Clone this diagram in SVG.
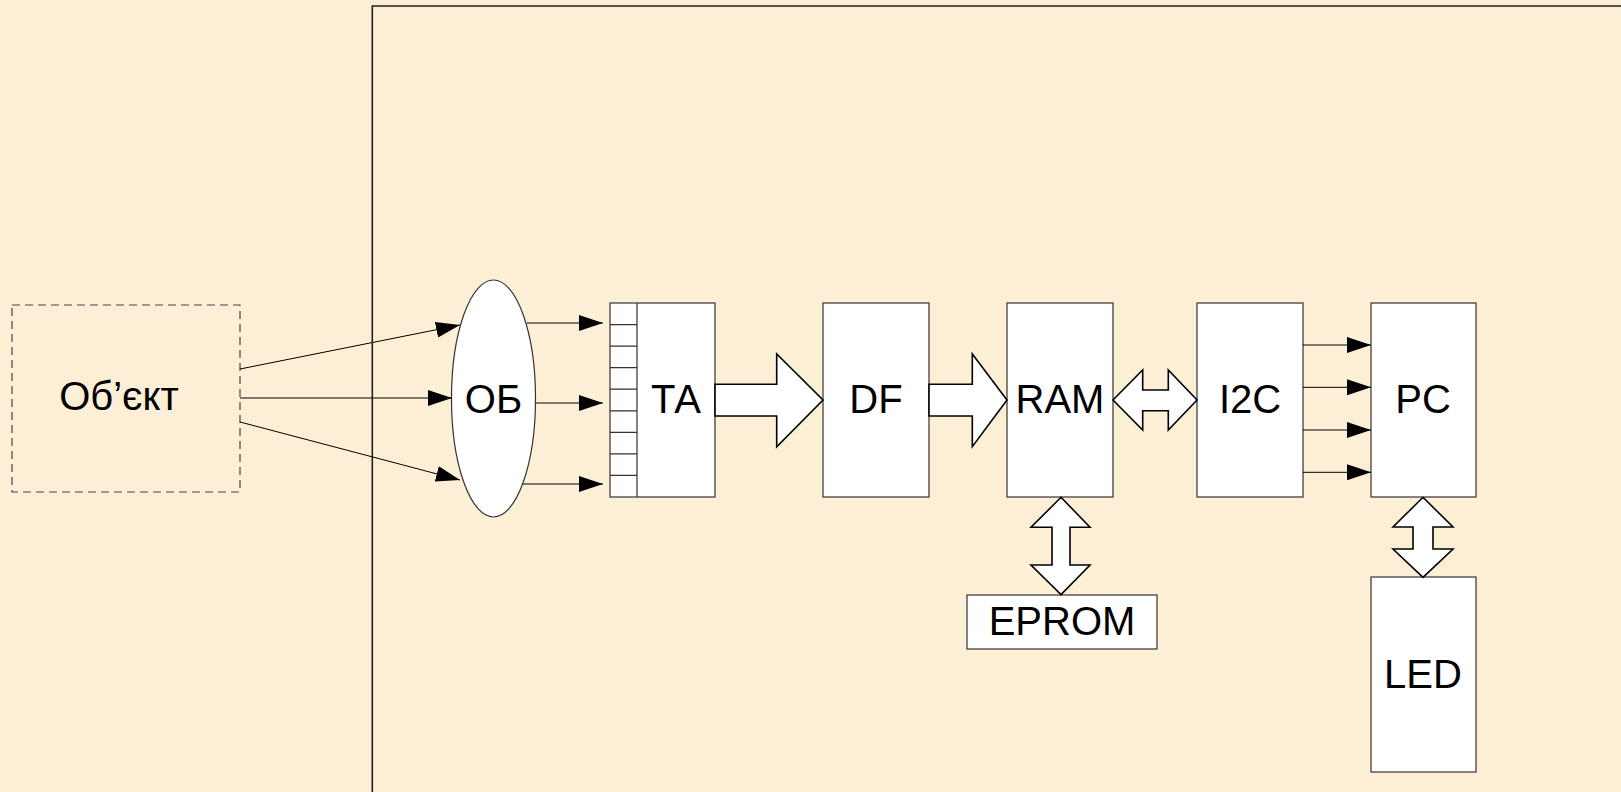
<svg xmlns="http://www.w3.org/2000/svg" width="1621" height="792" viewBox="0 0 1621 792">
  <defs>
    <marker id="head" viewBox="0 0 24 16" refX="24" refY="8" markerWidth="24" markerHeight="16" markerUnits="userSpaceOnUse" orient="auto">
      <path d="M0,0 L24,8 L0,16 Z" fill="#000"/>
    </marker>
  </defs>
  <style>
    .blk { fill: #fff; stroke: #333; stroke-width: 1.2; }
    .bus { fill: #fff; stroke: #000; stroke-width: 1.6; stroke-linejoin: miter; }
    .wire { fill: none; stroke: #000; stroke-width: 1; marker-end: url(#head); }
    .lbl { font-family: "Liberation Sans", Arial, sans-serif; font-size: 40px; fill: #000; text-anchor: middle; }
  </style>

  <!-- paper background -->
  <rect x="0" y="0" width="1621" height="792" fill="#fcefd6"/>

  <!-- device boundary -->
  <path d="M372.3,792 V6 H1621" fill="none" stroke="#222" stroke-width="1.6"/>

  <!-- external object -->
  <g id="object">
    <rect x="12" y="305" width="228" height="187" fill="none" stroke="#444" stroke-width="1.2" stroke-dasharray="8,5"/>
    <text class="lbl" x="119" y="410">Об’єкт</text>
  </g>

  <!-- optics -->
  <g id="ob">
    <ellipse cx="493.5" cy="398.5" rx="42" ry="118.5" class="blk"/>
    <text class="lbl" x="493.5" y="413">ОБ</text>
  </g>

  <!-- sensor array -->
  <g id="ta">
    <rect x="610" y="303" width="105" height="194" class="blk"/>
    <path d="M637,303 V497 M610,324.6 H637 M610,346.1 H637 M610,367.7 H637 M610,389.2 H637 M610,410.8 H637 M610,432.3 H637 M610,453.9 H637 M610,475.4 H637" stroke="#333" stroke-width="1.2" fill="none"/>
    <text class="lbl" x="676" y="413">ТА</text>
  </g>

  <g id="df">
    <rect x="823" y="303" width="106" height="194" class="blk"/>
    <text class="lbl" x="876" y="413">DF</text>
  </g>

  <g id="ram">
    <rect x="1007" y="303" width="106" height="194" class="blk"/>
    <text class="lbl" x="1060" y="413">RAM</text>
  </g>

  <g id="i2c">
    <rect x="1197" y="303" width="106" height="194" class="blk"/>
    <text class="lbl" x="1250" y="413">I2C</text>
  </g>

  <g id="pc">
    <rect x="1371" y="303" width="105" height="194" class="blk"/>
    <text class="lbl" x="1423" y="413">PC</text>
  </g>

  <g id="eprom">
    <rect x="967" y="595" width="190" height="54" class="blk"/>
    <text class="lbl" x="1062" y="635">EPROM</text>
  </g>

  <g id="led">
    <rect x="1371" y="577" width="105" height="195" class="blk"/>
    <text class="lbl" x="1423" y="688">LED</text>
  </g>

  <!-- connectors -->
  <g id="connectors">
    <line class="wire" x1="240" y1="369" x2="460" y2="325"/>
    <line class="wire" x1="240" y1="398" x2="452" y2="398"/>
    <line class="wire" x1="240" y1="422" x2="460" y2="480"/>

    <line class="wire" x1="527" y1="323" x2="603" y2="323"/>
    <line class="wire" x1="536" y1="403" x2="603" y2="403"/>
    <line class="wire" x1="523" y1="484" x2="603" y2="484"/>

    <line class="wire" x1="1303" y1="345" x2="1371" y2="345"/>
    <line class="wire" x1="1303" y1="387.3" x2="1371" y2="387.3"/>
    <line class="wire" x1="1303" y1="430" x2="1371" y2="430"/>
    <line class="wire" x1="1303" y1="472.3" x2="1371" y2="472.3"/>

    <polygon class="bus" points="715,384.3 776.7,384.3 776.7,354 823,400 776.7,446.7 776.7,416 715,416"/>
    <polygon class="bus" points="929,384.3 972.3,384.3 972.3,354 1007,400 972.3,446.7 972.3,416 929,416"/>
    <polygon class="bus" points="1113,400 1142.7,370 1142.7,390 1168.3,390 1168.3,370 1197,400 1168.3,430 1168.3,410.7 1142.7,410.7 1142.7,430"/>
    <polygon class="bus" points="1061,497.3 1090,527.3 1070,527.3 1070,565 1090,565 1061,594.5 1031,565 1052,565 1052,527.3 1031,527.3"/>
    <polygon class="bus" points="1423,497.3 1453,527 1433,527 1433,549 1453,549 1423,577.3 1393,549 1413,549 1413,527 1393,527"/>
  </g>
</svg>
